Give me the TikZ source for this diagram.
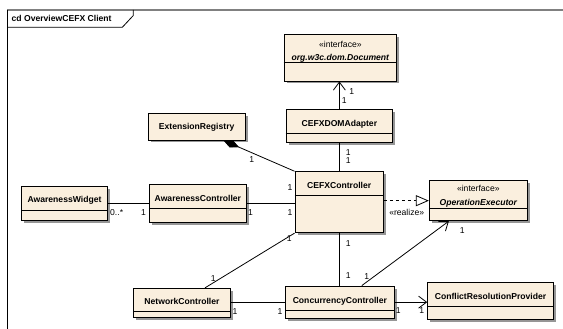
\documentclass[tikz,border=0pt]{standalone}
\usepackage{fontspec}
\setmainfont{Liberation Sans}
\usetikzlibrary{arrows.meta,shadows,calc}
\definecolor{classfill}{RGB}{250,239,222}
\definecolor{shadowgray}{RGB}{150,150,150}
\definecolor{framegray}{RGB}{128,128,128}
\tikzset{
  classbox/.style={draw=black, fill=classfill, line width=0.9pt, inner sep=0pt,
    drop shadow={shadow xshift=2.5pt, shadow yshift=-2.5pt, fill=shadowgray, opacity=1}},
  divider/.style={line width=0.9pt},
  cname/.style={font=\fontsize{8.6}{9}\selectfont\bfseries, inner sep=0pt, text height=6.2pt, text depth=0pt},
  iname/.style={font=\fontsize{8.6}{9}\selectfont\bfseries\itshape, inner sep=0pt, text height=6.2pt, text depth=0pt},
  stereo/.style={font=\fontsize{8.6}{9}\selectfont, inner sep=0pt, text height=6.2pt, text depth=0pt},
  mult/.style={font=\fontsize{8.6}{9}\selectfont, inner sep=0pt, text height=6.2pt, text depth=0pt},
  assoc/.style={line width=0.8pt},
  navarrow/.style={assoc, -{Straight Barb[length=8pt,width=12pt]}},
}
\newcommand\umlbox[5]{%
  \node[classbox, minimum width={(#4)-(#2)}, minimum height={(#5)-(#3)}] (#1) at ({((#2)+(#4))/2},{((#3)+(#5))/2}) {};
}
\begin{document}
\begin{tikzpicture}[x=1pt,y=-1pt]
\useasboundingbox (0,0) rectangle (563,329);
% frame
\draw[framegray, line width=1.6pt] (7,10) -- (563,10);
\draw[black, line width=0.8pt] (7,10) -- (7,329);
\draw[black, line width=0.8pt] (7,27.3) -- (122.3,27.3) -- (133.3,15.5) -- (133.3,10);
\node[cname, anchor=west] (title) at (11.5,18.5) {cd OverviewCEFX Client};

% classes
\umlbox{doc}{284}{34.7}{396.7}{81}
\draw[divider] (doc.west |- 0,62.7) -- (doc.east |- 0,62.7);
\node[stereo] (docst) at (doc.center |- 0,44) {«interface»};
\node[iname] (docname) at (doc.center |- 0,57) {org.w3c.dom.Document};

\umlbox{adapter}{286}{109.3}{392.7}{142.5}
\draw[divider] (adapter.west |- 0,133.3) -- (adapter.east |- 0,133.3);
\node[cname] (adaptername) at (adapter.center |- 0,123) {CEFXDOMAdapter};

\umlbox{reg}{148.3}{113.3}{245}{140}
\node[cname] (regname) at (reg.center |- 0,126.5) {ExtensionRegistry};

\umlbox{widget}{21.7}{186}{107.3}{220.7}
\draw[divider] (widget.west |- 0,210) -- (widget.east |- 0,210);
\node[cname] (widgetname) at (widget.center |- 0,199.5) {AwarenessWidget};

\umlbox{ac}{149.3}{184}{246.5}{222.7}
\draw[divider] (ac.west |- 0,208.3) -- (ac.east |- 0,208.3);
\node[cname] (acname) at (ac.center |- 0,198) {AwarenessController};

\umlbox{cefx}{295}{171.7}{383.3}{232.7}
\draw[divider] (cefx.west |- 0,195) -- (cefx.east |- 0,195);
\node[cname] (cefxname) at (cefx.center |- 0,185) {CEFXController};

\umlbox{oe}{429.3}{180.7}{527.3}{220.7}
\draw[divider] (oe.west |- 0,208.7) -- (oe.east |- 0,208.7);
\node[stereo] (oest) at (oe.center |- 0,188.5) {«interface»};
\node[iname] (oename) at (oe.center |- 0,202) {OperationExecutor};

\umlbox{nc}{133.3}{288.3}{230.7}{317.3}
\draw[divider] (nc.west |- 0,311) -- (nc.east |- 0,311);
\node[cname] (ncname) at (nc.center |- 0,301) {NetworkController};

\umlbox{cc}{285.7}{286}{394}{318.3}
\draw[divider] (cc.west |- 0,310) -- (cc.east |- 0,310);
\node[cname] (ccname) at (cc.center |- 0,300) {ConcurrencyController};

\umlbox{crp}{427.7}{282.7}{553.3}{319.3}
\draw[divider] (crp.west |- 0,306.7) -- (crp.east |- 0,306.7);
\node[cname] (crpname) at (crp.center |- 0,296.5) {ConflictResolutionProvider};

% connectors
\draw[navarrow] (adapter.north) -- (adapter.north |- doc.south);
\draw[assoc] (cefx.north) -- (cefx.north |- adapter.south);
\coordinate (regc) at ($(reg.south east)+(-22,0)$);
\draw[assoc, {Diamond[length=17pt,width=8pt,fill=black]}-] (regc) -- (cefx.north west);
\draw[assoc] (widget.east) -- (ac.west);
\draw[assoc] (ac.east) -- (ac.east -| cefx.west);
\draw[assoc, dashed, -{Triangle[open,length=13pt,width=11pt,fill=white]}] (cefx.east |- oe.west) -- (oe.west);
\coordinate (ccoe) at ($(cc.north)+(22,0)$);
\coordinate (oein) at ($(oe.south west)+(20,0)$);
\draw[navarrow] (ccoe) -- (oein);
\draw[assoc] (cefx.south) -- (cefx.south |- cc.north);
\coordinate (ncc) at ($(nc.north)+(23,0)$);
\draw[assoc] (ncc) -- (cefx.south west);
\draw[assoc] (nc.east) -- (nc.east -| cc.west);
\draw[navarrow] (cc.east) -- (cc.east -| crp.west);

% multiplicities
\node[mult] (m1) at (351.7,91) {1};
\node[mult] (m2) at (344.3,100) {1};
\node[mult] (m3) at (348.3,152.5) {1};
\node[mult] (m4) at (348.3,160.8) {1};
\node[mult] (m5) at (251.7,159.3) {1};
\node[mult] (m6) at (290,187.5) {1};
\node[mult, anchor=west] (m7) at (110,212.7) {0..*};
\node[mult] (m8) at (143.5,212.7) {1};
\node[mult] (m9) at (250.5,212.7) {1};
\node[mult] (m10) at (290,212.7) {1};
\node[mult] (m11) at (289.3,238.5) {1};
\node[mult] (m12) at (213.3,278.3) {1};
\node[mult] (m13) at (348.3,243.3) {1};
\node[mult] (m14) at (348.3,275.7) {1};
\node[mult] (m15) at (462.3,230.7) {1};
\node[mult] (m16) at (366.7,276.7) {1};
\node[mult] (m17) at (235,311) {1};
\node[mult] (m18) at (280,311) {1};
\node[mult] (m19) at (398.3,310.7) {1};
\node[mult] (m20) at (421.7,310.7) {1};
\node[stereo] (realize) at (406.7,212.3) {«realize»};
\end{tikzpicture}
\end{document}
